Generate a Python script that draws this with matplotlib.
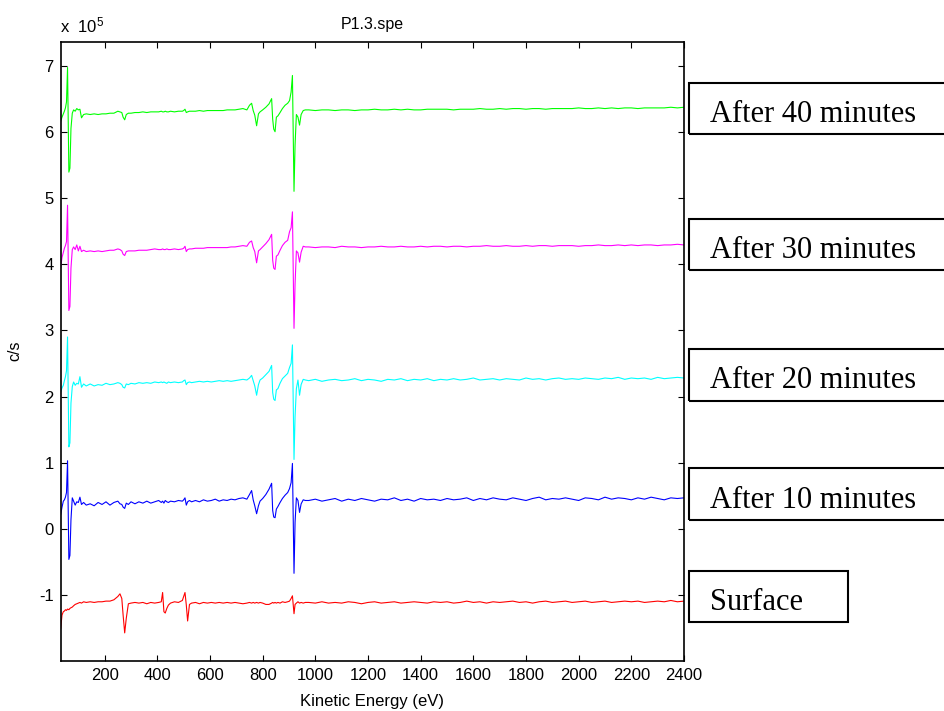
import matplotlib
matplotlib.use("Agg")
import matplotlib.pyplot as plt
from matplotlib.patches import Rectangle

plt.rcParams["font.family"] = ["Liberation Sans", "DejaVu Sans"]
plt.rcParams["axes.unicode_minus"] = False
plt.rcParams["mathtext.fontset"] = "custom"
plt.rcParams["mathtext.rm"] = "Liberation Sans"
plt.rcParams["mathtext.it"] = "Liberation Sans"

# Kinetic energy grid (eV), shared by all spectra
energy = [
    33, 38, 43, 47, 51, 55, 59, 64, 68, 72, 77, 82, 88, 94, 100, 106, 112, 120, 130,
    145, 160, 175, 190, 205, 220, 235, 250, 258, 265, 270, 276, 282, 290, 300,
    315, 330, 345, 360, 375, 390, 405, 415, 420, 425, 430, 436, 442, 450, 465, 480, 495, 500, 505, 510, 515, 522, 530,
    545, 560, 575, 590, 605, 620, 635, 650, 665, 680, 695, 710, 725, 740, 750, 758, 764, 770, 777, 784, 790, 800, 812,
    824, 834, 838, 842, 847, 852, 858, 866, 875, 885, 895, 902, 908, 913, 919, 923, 928, 934, 940, 946, 954, 962,
    975, 1000, 1025, 1050, 1075, 1100, 1125, 1150, 1175, 1200,
    1225, 1250, 1275, 1300, 1325, 1350, 1375, 1400, 1425, 1450,
    1475, 1500, 1525, 1550, 1575, 1600, 1625, 1650, 1675, 1700,
    1725, 1750, 1775, 1800, 1825, 1850, 1875, 1900, 1925, 1950,
    1975, 2000, 2025, 2050, 2075, 2100, 2125, 2150, 2175, 2200,
    2225, 2250, 2275, 2300, 2325, 2350, 2375, 2400,
]

# Count rates, in units of 1e5 c/s
after_40 = [
    6.16, 6.22, 6.27, 6.31, 6.36, 6.45, 6.97, 5.39, 5.45, 6.05, 6.28, 6.33, 6.31, 6.35, 6.33, 6.34, 6.21, 6.26, 6.27,
    6.26, 6.27, 6.26, 6.27, 6.27, 6.28, 6.28, 6.31, 6.30, 6.29, 6.22, 6.18, 6.26, 6.28, 6.28,
    6.29, 6.29, 6.30, 6.29, 6.30, 6.30, 6.30, 6.31, 6.30, 6.30, 6.31, 6.30, 6.30, 6.31, 6.30, 6.31, 6.31, 6.32, 6.34, 6.29, 6.30, 6.31, 6.31,
    6.31, 6.32, 6.31, 6.32, 6.32, 6.32, 6.32, 6.32, 6.33, 6.33, 6.33, 6.34, 6.35, 6.33, 6.40, 6.43, 6.32, 6.25, 6.09, 6.27, 6.30, 6.33, 6.37,
    6.42, 6.50, 6.19, 6.04, 6.00, 6.22, 6.24, 6.29, 6.35, 6.40, 6.43, 6.47, 6.60, 6.85, 5.10, 5.80, 6.26, 6.22, 6.10, 6.26, 6.32, 6.33,
    6.33, 6.32, 6.33, 6.33, 6.32, 6.33, 6.33, 6.32, 6.33, 6.33,
    6.34, 6.33, 6.33, 6.34, 6.33, 6.34, 6.33, 6.33, 6.34, 6.34,
    6.34, 6.34, 6.33, 6.34, 6.34, 6.34, 6.35, 6.34, 6.34, 6.35,
    6.34, 6.35, 6.35, 6.34, 6.35, 6.35, 6.34, 6.35, 6.35, 6.35,
    6.35, 6.36, 6.35, 6.35, 6.36, 6.35, 6.36, 6.35, 6.36, 6.36,
    6.35, 6.36, 6.36, 6.36, 6.36, 6.37, 6.36, 6.37,
]

after_30 = [
    3.95, 4.10, 4.18, 4.24, 4.28, 4.34, 4.89, 3.30, 3.36, 3.94, 4.22, 4.26, 4.22, 4.29, 4.20, 4.27, 4.19, 4.21, 4.19,
    4.20, 4.19, 4.20, 4.19, 4.20, 4.21, 4.21, 4.23, 4.22, 4.20, 4.15, 4.13, 4.19, 4.20, 4.20,
    4.20, 4.21, 4.21, 4.21, 4.22, 4.23, 4.22, 4.22, 4.23, 4.22, 4.22, 4.23, 4.22, 4.22, 4.23, 4.22, 4.23, 4.24, 4.27, 4.19, 4.22, 4.23, 4.23,
    4.24, 4.24, 4.24, 4.25, 4.25, 4.25, 4.25, 4.25, 4.25, 4.26, 4.26, 4.27, 4.28, 4.27, 4.33, 4.35, 4.25, 4.19, 4.02, 4.20, 4.22, 4.26, 4.31,
    4.37, 4.45, 4.06, 3.94, 3.92, 4.12, 4.14, 4.21, 4.28, 4.33, 4.36, 4.49, 4.55, 4.79, 3.03, 3.70, 4.20, 4.17, 4.03, 4.18, 4.27, 4.26,
    4.26, 4.25, 4.26, 4.26, 4.25, 4.27, 4.26, 4.26, 4.25, 4.26,
    4.26, 4.27, 4.26, 4.26, 4.27, 4.26, 4.26, 4.27, 4.26, 4.27,
    4.27, 4.26, 4.27, 4.27, 4.26, 4.27, 4.27, 4.28, 4.27, 4.27,
    4.28, 4.27, 4.27, 4.28, 4.27, 4.28, 4.28, 4.27, 4.28, 4.28,
    4.28, 4.27, 4.28, 4.28, 4.29, 4.28, 4.28, 4.29, 4.28, 4.29,
    4.28, 4.29, 4.29, 4.28, 4.29, 4.29, 4.30, 4.29,
]

after_20 = [
    2.07, 2.13, 2.17, 2.24, 2.30, 2.39, 2.90, 1.24, 1.30, 1.90, 2.15, 2.22, 2.17, 2.20, 2.19, 2.30, 2.14, 2.19, 2.16,
    2.19, 2.16, 2.18, 2.17, 2.20, 2.18, 2.19, 2.21, 2.20, 2.18, 2.14, 2.13, 2.19, 2.18, 2.20,
    2.19, 2.21, 2.20, 2.21, 2.20, 2.22, 2.21, 2.22, 2.21, 2.22, 2.21, 2.20, 2.22, 2.21, 2.22, 2.21, 2.22, 2.24, 2.25, 2.18, 2.21, 2.22, 2.21,
    2.22, 2.23, 2.22, 2.23, 2.22, 2.23, 2.24, 2.23, 2.24, 2.23, 2.24, 2.25, 2.26, 2.25, 2.28, 2.32, 2.24, 2.16, 2.02, 2.18, 2.25, 2.28, 2.33,
    2.38, 2.47, 2.06, 1.96, 1.94, 2.10, 2.12, 2.20, 2.27, 2.31, 2.35, 2.44, 2.50, 2.78, 1.05, 1.70, 2.12, 2.25, 2.02, 2.18, 2.26, 2.25,
    2.24, 2.26, 2.23, 2.25, 2.26, 2.24, 2.25, 2.27, 2.24, 2.26,
    2.25, 2.23, 2.26, 2.25, 2.27, 2.24, 2.26, 2.25, 2.27, 2.24,
    2.26, 2.25, 2.27, 2.25, 2.26, 2.28, 2.25, 2.26, 2.27, 2.25,
    2.27, 2.26, 2.25, 2.28, 2.26, 2.27, 2.25, 2.27, 2.28, 2.26,
    2.27, 2.26, 2.28, 2.27, 2.26, 2.28, 2.27, 2.29, 2.26, 2.28,
    2.27, 2.28, 2.26, 2.29, 2.27, 2.28, 2.29, 2.28,
]

after_10 = [
    0.22, 0.33, 0.42, 0.44, 0.48, 0.55, 1.03, -0.46, -0.40, 0.14, 0.47, 0.42, 0.36, 0.41, 0.40, 0.48, 0.37, 0.40, 0.36,
    0.38, 0.35, 0.40, 0.37, 0.41, 0.36, 0.40, 0.42, 0.38, 0.37, 0.33, 0.31, 0.39, 0.37, 0.41,
    0.38, 0.41, 0.39, 0.42, 0.39, 0.41, 0.43, 0.40, 0.42, 0.39, 0.43, 0.41, 0.40, 0.42, 0.41, 0.43, 0.42, 0.44, 0.47, 0.36, 0.41, 0.43, 0.41,
    0.43, 0.41, 0.44, 0.42, 0.43, 0.45, 0.42, 0.44, 0.43, 0.45, 0.44, 0.46, 0.47, 0.45, 0.52, 0.58, 0.44, 0.35, 0.23, 0.35, 0.42, 0.46, 0.52,
    0.60, 0.69, 0.28, 0.18, 0.17, 0.30, 0.34, 0.40, 0.46, 0.51, 0.55, 0.61, 0.70, 0.99, -0.67, 0.10, 0.47, 0.43, 0.25, 0.38, 0.44, 0.43,
    0.43, 0.45, 0.42, 0.44, 0.46, 0.42, 0.45, 0.43, 0.46, 0.44,
    0.42, 0.45, 0.44, 0.47, 0.43, 0.45, 0.42, 0.46, 0.44, 0.45,
    0.43, 0.46, 0.44, 0.45, 0.47, 0.43, 0.46, 0.44, 0.47, 0.45,
    0.44, 0.47, 0.45, 0.43, 0.46, 0.48, 0.44, 0.46, 0.45, 0.47,
    0.45, 0.43, 0.47, 0.46, 0.44, 0.48, 0.45, 0.47, 0.46, 0.44,
    0.47, 0.45, 0.48, 0.46, 0.44, 0.47, 0.46, 0.47,
]

surface = [
    -1.50, -1.30, -1.25, -1.24, -1.22, -1.23, -1.21, -1.22, -1.20, -1.19, -1.18, -1.16, -1.14, -1.13, -1.12, -1.11, -1.12, -1.10, -1.11,
    -1.10, -1.11, -1.10, -1.10, -1.09, -1.09, -1.07, -1.02, -0.98, -1.05, -1.30, -1.57, -1.35, -1.13, -1.12,
    -1.11, -1.12, -1.11, -1.13, -1.11, -1.12, -1.11, -1.10, -0.96, -1.25, -1.27, -1.20, -1.15, -1.12, -1.10, -1.11, -1.08, -1.02, -0.96, -1.15, -1.39, -1.14, -1.12,
    -1.11, -1.13, -1.11, -1.12, -1.11, -1.12, -1.11, -1.12, -1.11, -1.12, -1.11, -1.12, -1.13, -1.12, -1.11, -1.12, -1.11, -1.12, -1.11, -1.12, -1.11, -1.12, -1.14,
    -1.14, -1.12, -1.11, -1.12, -1.11, -1.12, -1.11, -1.12, -1.10, -1.11, -1.10, -1.09, -1.05, -1.01, -1.28, -1.14, -1.12, -1.10, -1.12, -1.11, -1.12, -1.11,
    -1.11, -1.12, -1.10, -1.12, -1.11, -1.12, -1.10, -1.11, -1.13, -1.11,
    -1.10, -1.12, -1.11, -1.10, -1.12, -1.11, -1.10, -1.11, -1.12, -1.10,
    -1.11, -1.10, -1.12, -1.11, -1.09, -1.11, -1.10, -1.12, -1.10, -1.11,
    -1.10, -1.09, -1.11, -1.10, -1.12, -1.10, -1.09, -1.11, -1.10, -1.09,
    -1.11, -1.10, -1.09, -1.11, -1.10, -1.09, -1.11, -1.10, -1.09, -1.10,
    -1.09, -1.11, -1.10, -1.09, -1.10, -1.08, -1.10, -1.09,
]

series = [after_40, after_30, after_20, after_10, surface]
colors = ["#00ff00", "#ff00ff", "#00ffff", "#0000ff", "#ff0000"]
labels = ["After 40 minutes", "After 30 minutes", "After 20 minutes", "After 10 minutes", "Surface"]
x_ticks = [200, 400, 600, 800, 1000, 1200, 1400, 1600, 1800, 2000, 2200, 2400]
y_ticks = [-1, 0, 1, 2, 3, 4, 5, 6, 7]

W, H = 944, 711
fig = plt.figure(figsize=(W / 100, H / 100), dpi=100)
ax = fig.add_axes([60.7 / W, 1 - 660.7 / H, (684 - 60.7) / W, (660.7 - 41.7) / H])

for y, c in zip(series, colors):
    ax.plot(energy, y, color=c, lw=0.8)

ax.set_xlim(33, 2400)
ax.set_ylim(-1.99, 7.36)
ax.set_xticks(x_ticks)
ax.set_yticks(y_ticks)
ax.tick_params(direction="in", length=4, width=0.8, top=True, right=True,
               labelsize=12, pad=5, colors="black")
for s in ax.spines.values():
    s.set_linewidth(1.2)

ax.set_title("P1.3.spe", fontsize=11.5, pad=9)
ax.set_xlabel("Kinetic Energy (eV)", fontsize=12, labelpad=8)
ax.set_ylabel("c/s", fontsize=11.5, labelpad=12)
fig.text(60 / W, 1 - 32 / H, r"x  10$^{5}$", fontsize=12, ha="left", va="baseline")

# Boxed annotations on the right
boxes = [(83, 134), (219, 270), (349, 401), (468, 520), (571, 622)]
rights = [960, 960, 960, 960, 848]
for (top, bot), right, lab in zip(boxes, rights, labels):
    rect = Rectangle((689 / W, 1 - bot / H), (right - 689) / W, (bot - top) / H,
                     transform=fig.transFigure, fill=False, lw=1.5,
                     edgecolor="black", clip_on=False)
    fig.add_artist(rect)
    fig.text(710 / W, 1 - (bot - 12.5) / H, lab, fontsize=22,
             family=["Liberation Serif", "DejaVu Serif"], ha="left", va="baseline")

fig.savefig("out.png", dpi=100)
